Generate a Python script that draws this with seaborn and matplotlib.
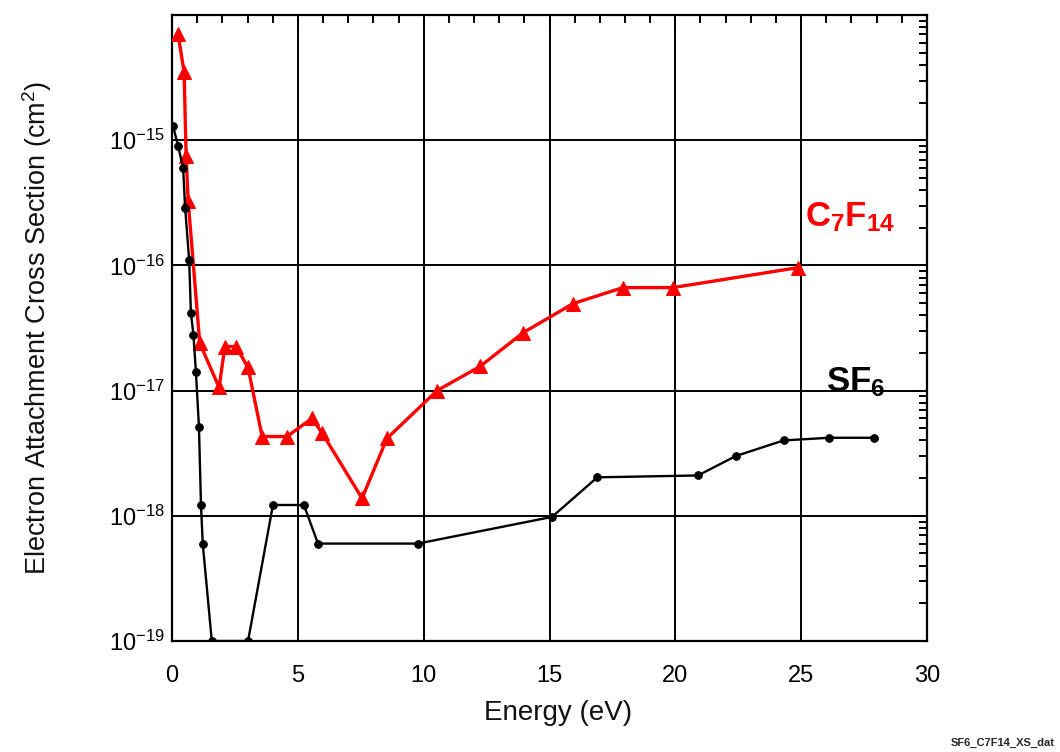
import matplotlib
matplotlib.use("Agg")
import matplotlib.pyplot as plt
import matplotlib.ticker as mticker
import seaborn as sns
import numpy as np
import pandas as pd

# ---- data ----
c7f14_energy = [0.24, 0.48, 0.56, 0.64, 1.1, 1.87, 2.1, 2.54, 3.02, 3.58, 4.57,
                5.56, 5.96, 7.55, 8.54, 10.53, 12.24, 13.95, 15.93, 17.92, 19.9, 24.87]
c7f14_xs = [7.0e-15, 3.5e-15, 7.5e-16, 3.3e-16, 2.4e-17, 1.06e-17, 2.25e-17, 2.25e-17,
            1.53e-17, 4.3e-18, 4.3e-18, 6.0e-18, 4.6e-18, 1.38e-18, 4.15e-18, 1.0e-17,
            1.56e-17, 2.9e-17, 4.95e-17, 6.65e-17, 6.65e-17, 9.6e-17]

sf6_energy = [0.04, 0.24, 0.44, 0.52, 0.68, 0.75, 0.85, 0.95, 1.07, 1.15, 1.22, 1.58,
              3.02, 4.01, 5.24, 5.8, 9.77, 15.1, 16.9, 20.9, 22.4, 24.3, 26.1, 27.9]
sf6_xs = [1.3e-15, 9.0e-16, 6.0e-16, 2.9e-16, 1.1e-16, 4.2e-17, 2.8e-17, 1.4e-17,
          5.1e-18, 1.22e-18, 6.0e-19, 1.0e-19, 1.0e-19, 1.22e-18, 1.22e-18, 6.0e-19,
          6.0e-19, 9.8e-19, 2.03e-18, 2.1e-18, 3.0e-18, 4.0e-18, 4.2e-18, 4.2e-18]

x_ticks = [0, 5, 10, 15, 20, 25, 30]
y_decades = [-19, -18, -17, -16, -15]

sns.set_style("white")
plt.rcParams['font.family'] = ['Liberation Sans', 'DejaVu Sans']
plt.rcParams['mathtext.fontset'] = 'custom'
plt.rcParams['mathtext.rm'] = 'Liberation Sans'
plt.rcParams['mathtext.it'] = 'Liberation Sans'
plt.rcParams['mathtext.bf'] = 'Liberation Sans:bold'

fig = plt.figure(figsize=(10.6, 7.52), dpi=100)
ax = fig.add_axes([0.1623, 0.1476, 0.8745 - 0.1623, 0.980 - 0.1476])

df_c = pd.DataFrame({"E": c7f14_energy, "XS": c7f14_xs})
df_s = pd.DataFrame({"E": sf6_energy, "XS": sf6_xs})

sns.lineplot(data=df_c, x="E", y="XS", ax=ax, sort=False, estimator=None,
             color="#ff0000", linewidth=2.4, marker="^", markersize=9.5,
             markeredgecolor="#ff0000", zorder=5)
sns.lineplot(data=df_s, x="E", y="XS", ax=ax, sort=False, estimator=None,
             color="black", linewidth=1.7, marker="o", markersize=5.5,
             markeredgecolor="black", zorder=6)

ax.set_yscale("log")
ax.set_xlim(0, 30)
ax.set_ylim(1e-19, 1e-14)

ax.set_xticks(x_ticks)
ax.set_xticklabels([str(t) for t in x_ticks])
ax.xaxis.set_minor_locator(mticker.MultipleLocator(1))
ax.set_yticks([10.0 ** d for d in y_decades])
ax.set_yticklabels([r"$10^{%d}$" % d for d in y_decades])
ax.yaxis.set_minor_locator(mticker.LogLocator(base=10, subs=np.arange(2, 10), numticks=20))
ax.yaxis.set_minor_formatter(mticker.NullFormatter())

ax.grid(True, which="major", color="black", linewidth=1.4)
ax.tick_params(which="both", direction="in", top=True, right=True, colors="black",
               width=1.4)
ax.tick_params(which="major", length=10, labelsize=17)
ax.tick_params(axis="x", which="major", pad=17)
ax.tick_params(axis="y", which="major", pad=5)
ax.tick_params(which="minor", length=6)
for s in ax.spines.values():
    s.set_color("black")
    s.set_linewidth(1.6)

ax.set_xlabel("Energy (eV)", fontsize=20, labelpad=12, color="#111111")
ax.xaxis.set_label_coords(0.511, -0.095)
ax.set_ylabel(r"Electron Attachment Cross Section (cm$^2$)", fontsize=19.5,
              labelpad=40, color="#111111")

ax.text(25.15, 2.05e-16, r"$\mathbf{C_7F_{14}}$", color="#ff0000", fontsize=25,
        ha="left", va="baseline")
ax.text(26.0, 0.98e-17, r"$\mathbf{SF_6}$", color="black", fontsize=25,
        ha="left", va="baseline")

fig.text(0.995, 0.005, "SF6_C7F14_XS_dat", fontsize=8, fontweight="bold",
         ha="right", va="bottom")

fig.savefig("out.png", dpi=100)
